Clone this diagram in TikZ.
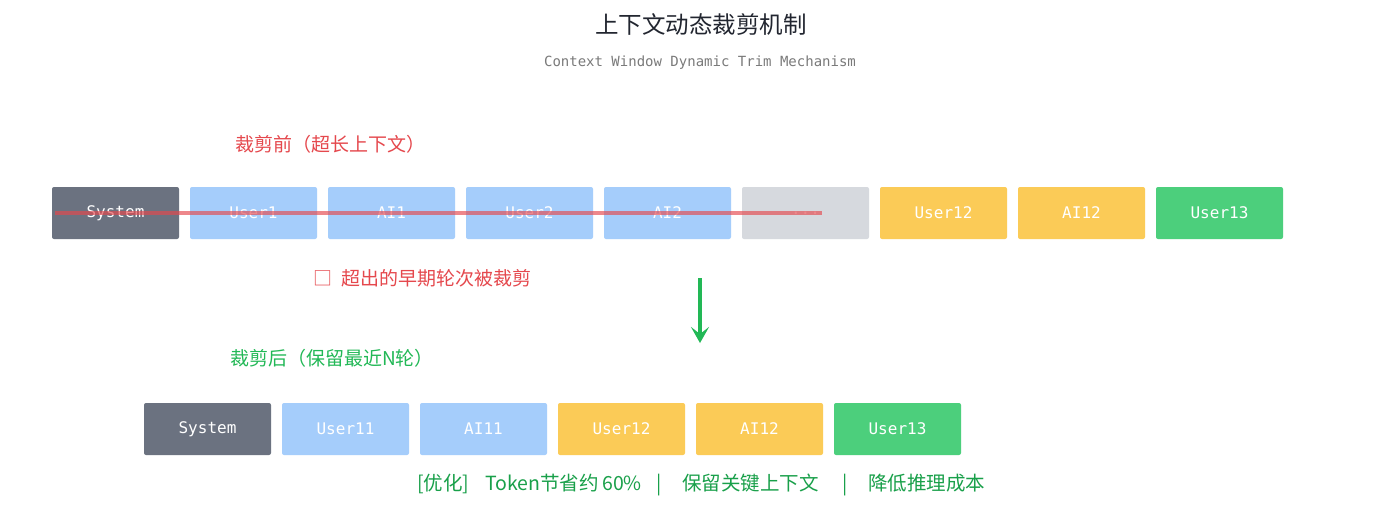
\documentclass[tikz,border=0pt]{standalone}
\usepackage{fontspec}
\setmonofont{DejaVu Sans Mono}
\newfontfamily\cjk{Noto Sans CJK SC}
\usetikzlibrary{arrows.meta}
\definecolor{sysgray}{HTML}{6B7280}
\definecolor{lblue}{HTML}{A5CDFB}
\definecolor{lgray}{HTML}{D6D9DE}
\definecolor{myyellow}{HTML}{FBCB57}
\definecolor{mygreen}{HTML}{4CCF7C}
\definecolor{myred}{HTML}{E5484D}
\definecolor{txtgreen}{HTML}{22B856}
\definecolor{dkgreen}{HTML}{19A04A}
\definecolor{titlecol}{HTML}{222630}
\definecolor{subcol}{HTML}{7A7A7A}
\tikzset{
  msgbox/.style={draw=none, rounded corners=2pt, minimum width=127pt, minimum height=52pt, inner sep=0pt, text=white, font=\ttfamily\fontsize{16}{16}\selectfont},
}
\begin{document}
\begin{tikzpicture}[x=1pt,y=-1pt]
\path[use as bounding box, fill=white] (0,0) rectangle (1400,507);
\node (title) at (701,25) {\cjk\fontsize{23.5}{23.5}\selectfont\color{titlecol}上下文动态裁剪机制};
\node (sub) at (700,63) {\ttfamily\fontsize{14}{14}\selectfont\color{subcol}Context Window Dynamic Trim Mechanism};
\node[anchor=west, inner sep=0pt] (before) at (235,144) {\cjk\fontsize{19}{19}\selectfont\color{myred}裁剪前（超长上下文）};
% top row
\node[msgbox, fill=sysgray] (t1) at (115.5,213) {System};
\node[msgbox, fill=lblue] (t2) at (253.5,213) {User1};
\node[msgbox, fill=lblue] (t3) at (391.5,213) {AI1};
\node[msgbox, fill=lblue] (t4) at (529.5,213) {User2};
\node[msgbox, fill=lblue] (t5) at (667.5,213) {AI2};
\node[msgbox, fill=lgray, text=white!96!lgray] (t6) at (805.5,213) {...};
\node[msgbox, fill=myyellow] (t7) at (943.5,213) {User12};
\node[msgbox, fill=myyellow] (t8) at (1081.5,213) {AI12};
\node[msgbox, fill=mygreen] (t9) at (1219.5,213) {User13};
\coordinate (s1) at (55,213);
\coordinate (s2) at (822,213);
\draw[myred, opacity=0.65, line width=3.5pt] (s1) -- (s2);
\node[anchor=west, inner sep=0pt] (note) at (313,278) {\cjk\fontsize{19}{19}\selectfont\color{myred}□\hspace{0.5em}超出的早期轮次被裁剪};
% arrow
\coordinate (a1) at (700,278);
\coordinate (a2) at (700,343);
\draw[txtgreen, line width=3.5pt, -{Stealth[length=16pt,width=18pt,inset=7pt]}] (a1) -- (a2);
\node[anchor=west, inner sep=0pt] (after) at (230,358) {\cjk\fontsize{19}{19}\selectfont\color{txtgreen}裁剪后（保留最近N轮）};
% bottom row
\node[msgbox, fill=sysgray] (b1) at (207.5,429) {System};
\node[msgbox, fill=lblue] (b2) at (345.5,429) {User11};
\node[msgbox, fill=lblue] (b3) at (483.5,429) {AI11};
\node[msgbox, fill=myyellow] (b4) at (621.5,429) {User12};
\node[msgbox, fill=myyellow] (b5) at (759.5,429) {AI12};
\node[msgbox, fill=mygreen] (b6) at (897.5,429) {User13};
\node[anchor=west, inner sep=0pt] (sum) at (417,485) {\cjk\fontsize{19.5}{19.5}\selectfont\color{dkgreen}\makebox[68pt][l]{[优化]}\makebox[117pt][l]{Token节省约}\makebox[54pt][l]{60\%}\makebox[26pt][l]{|}\makebox[160pt][l]{保留关键上下文}\makebox[26pt][l]{|}降低推理成本};
\end{tikzpicture}
\end{document}
